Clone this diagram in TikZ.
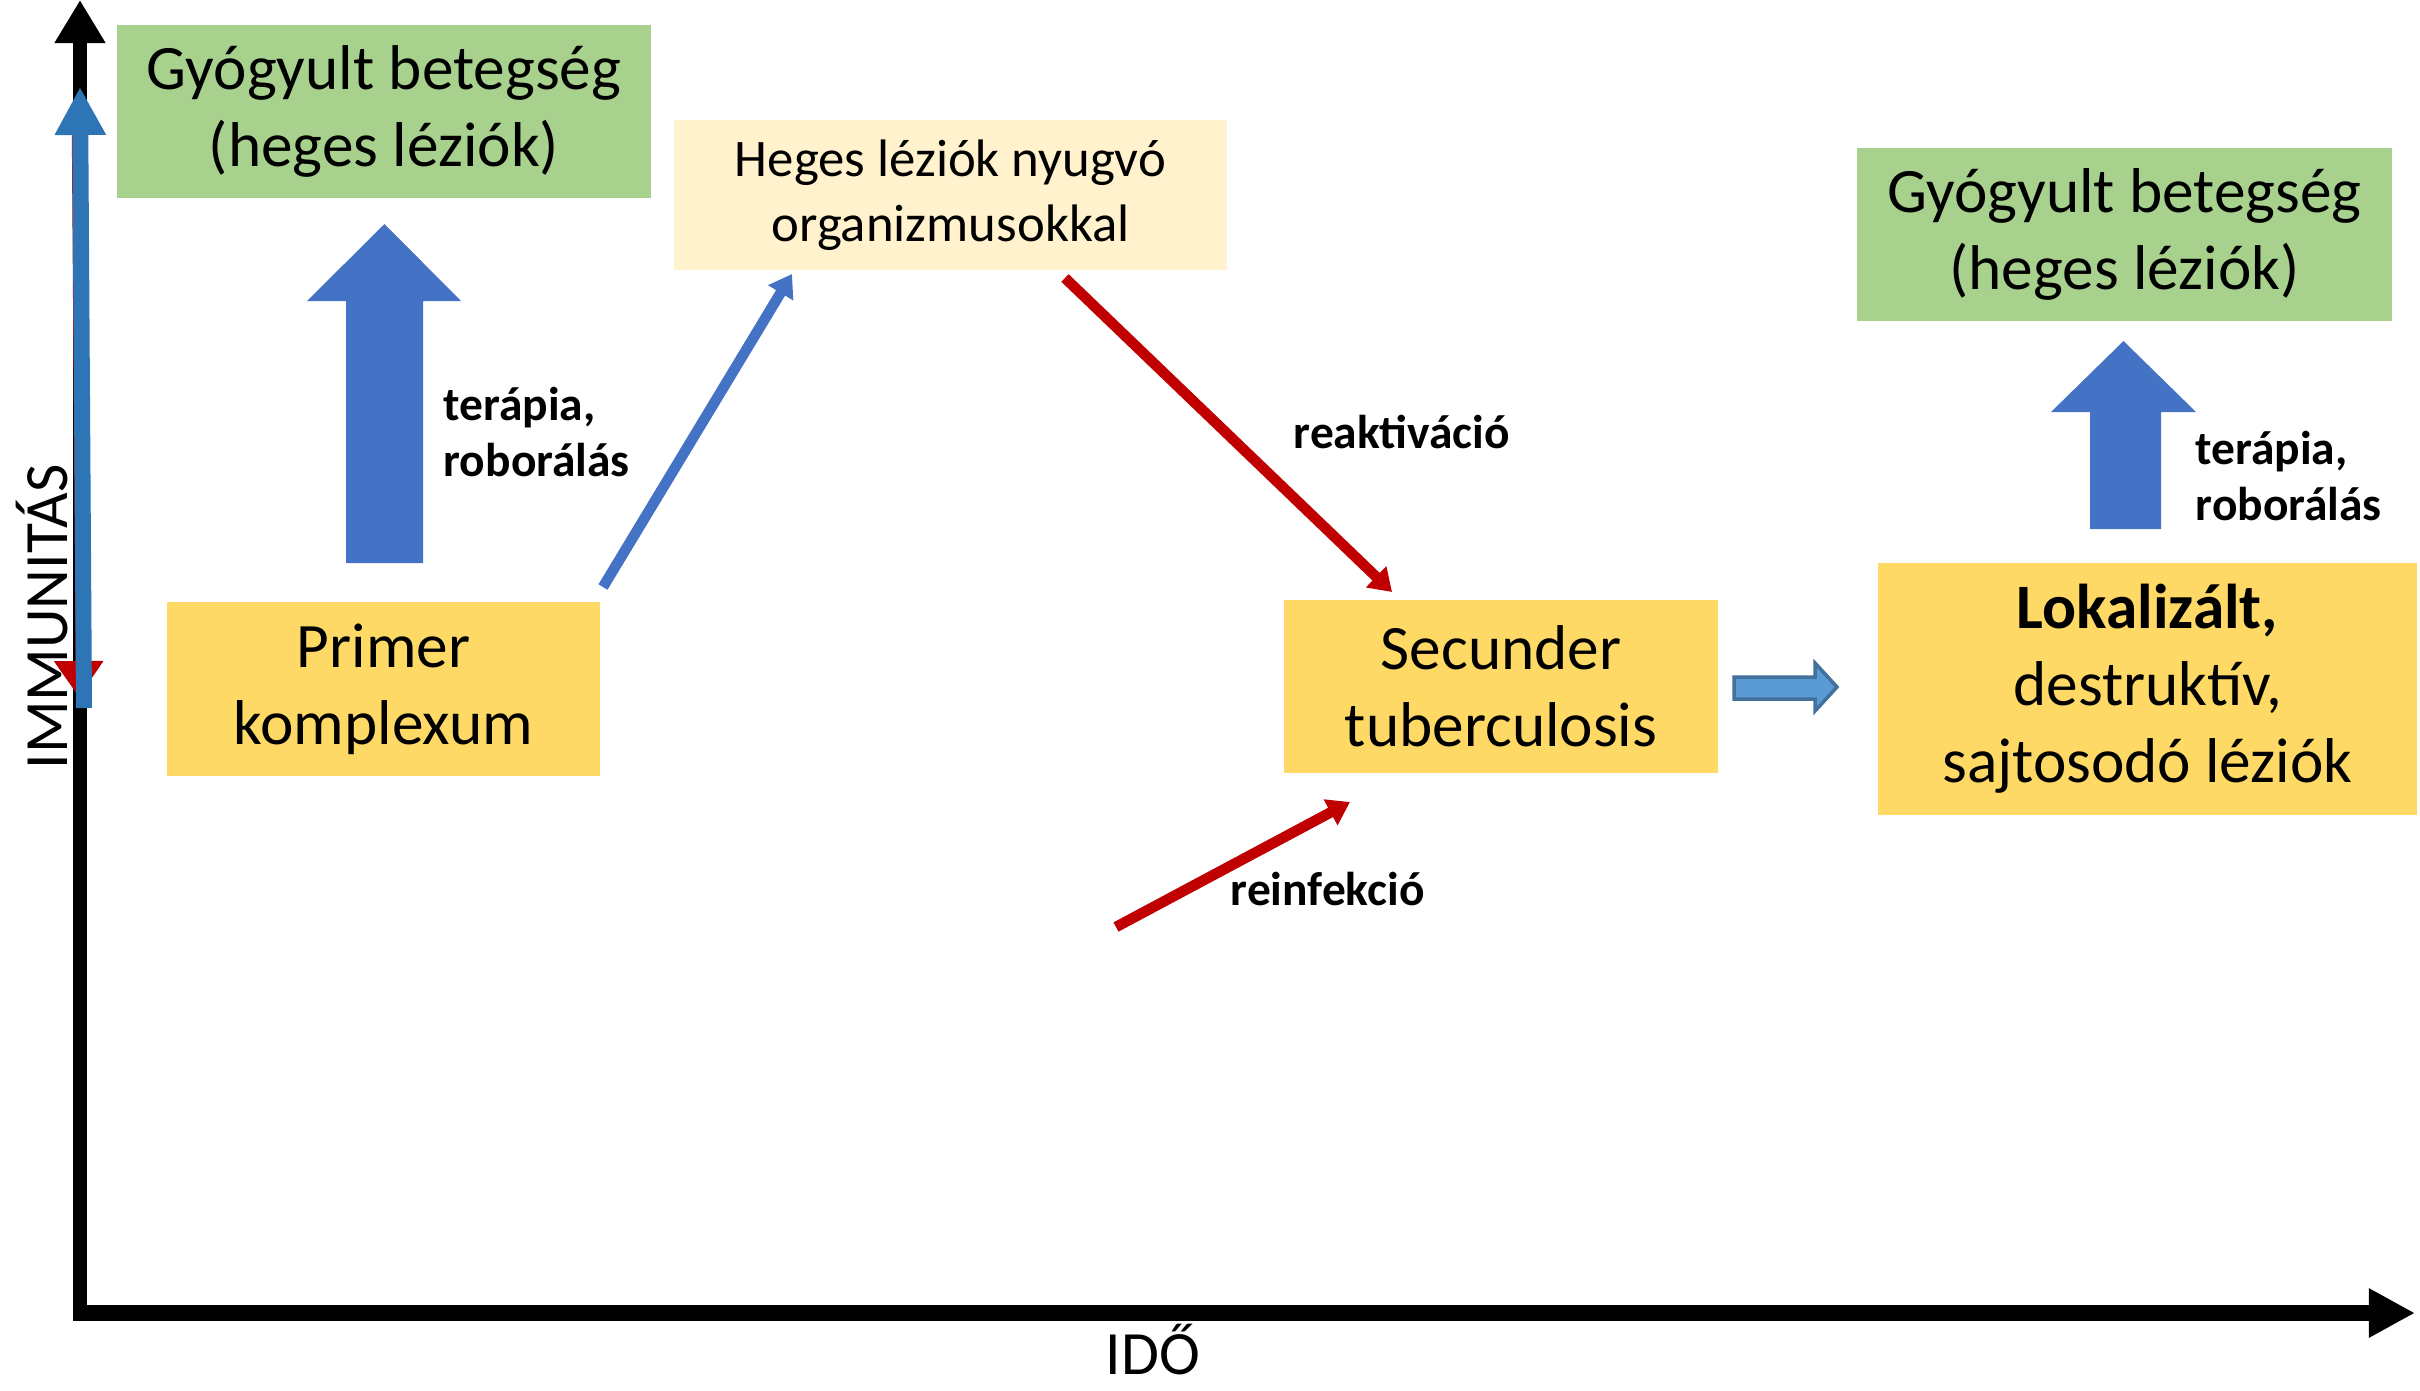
\documentclass[tikz,border=0pt]{standalone}
\usepackage{fontspec}
\setmainfont{Carlito}
\usetikzlibrary{arrows.meta}

\definecolor{zold}{HTML}{A9D18E}
\definecolor{halvany}{HTML}{FFF2CC}
\definecolor{sarga}{HTML}{FFD966}
\definecolor{kek}{HTML}{4472C4}
\definecolor{tengerkek}{HTML}{2E75B6}
\definecolor{vilagoskek}{HTML}{5B9BD5}
\definecolor{keret}{HTML}{41719C}
\definecolor{piros}{HTML}{C00000}

\tikzset{
  box/.style={inner sep=0pt, align=center, font=\fontsize{18}{21.9}\selectfont},
  label/.style={inner sep=0pt, align=left, font=\fontsize{13.5}{16}\selectfont\bfseries},
  axis/.style={line width=4pt},
  thin arrow/.style={line width=3pt, -{Triangle[length=0.22cm,width=0.28cm]}},
  blockarrow/.style={fill=kek, draw=none}
}

\begin{document}
\begin{tikzpicture}[x=0.01cm, y=-0.01cm]

    \useasboundingbox (0,0) rectangle (2420,1390);

    % draw axes
    \draw[axis,-{Triangle[length=0.43cm,width=0.48cm]}] (80,1320) -- (80,0);
    \draw[axis,line width=4.5pt,-{Triangle[length=0.46cm,width=0.46cm]}] (73,1313) -- (2415,1313);
    \node[rotate=90, font=\fontsize{17.5}{20}\selectfont] (immun) at (42,617) {IMMUNITÁS};
    \node[font=\fontsize{17.5}{20}\selectfont] (ido) at (1153,1350) {IDŐ};

    % arrows on the y axis
    \draw[piros, line width=1.8pt, -{Triangle[length=0.36cm,width=0.48cm]}] (75,135) -- (79,697);
    \draw[tengerkek, line width=0.16cm, -{Triangle[length=0.48cm,width=0.48cm]}] (84,708) -- (80,87);

    % boxes
    \node[box, fill=zold, minimum width=5.34cm, minimum height=1.73cm] (gyogy1) at (384,111.5) {Gyógyult betegség\\(heges léziók)};
    \node[box, fill=halvany, minimum width=5.53cm, minimum height=1.5cm, font=\fontsize{15}{18.5}\selectfont] (heges) at (950.5,195) {Heges léziók nyugvó\\organizmusokkal};
    \node[box, fill=sarga, minimum width=4.33cm, minimum height=1.74cm] (primer) at (383.5,689) {Primer\\komplexum};
    \node[box, fill=sarga, minimum width=4.34cm, minimum height=1.73cm] (secunder) at (1501,686.5) {Secunder\\tuberculosis};
    \node[box, fill=sarga, minimum width=5.39cm, minimum height=2.52cm] (lokal) at (2147.5,689) {\textbf{Lokalizált,}\\destruktív,\\sajtosodó léziók};
    \node[box, fill=zold, minimum width=5.35cm, minimum height=1.73cm] (gyogy2) at (2124.5,234.5) {Gyógyult betegség\\(heges léziók)};

    % block arrows
    \draw[blockarrow] (346,563) -- (346,301) -- (307,301) -- (384.5,224) -- (461,301) -- (423,301) -- (423,563) -- cycle;
    \draw[blockarrow] (2090,529) -- (2090,412) -- (2051,412) -- (2123.5,341) -- (2196,412) -- (2161,412) -- (2161,529) -- cycle;
    \draw[fill=vilagoskek, draw=keret, line width=1pt] (1734,677) -- (1815,677) -- (1815,663) -- (1837,687) -- (1815,711) -- (1815,699) -- (1734,699) -- cycle;

    \node[label, anchor=west] (terapia1) at (443,432) {terápia,\\roborálás};
    \node[label, anchor=west] (terapia2) at (2195,476) {terápia,\\roborálás};

    % thin arrows
    \coordinate (kekstart) at (603,587);
    \coordinate (kekveg) at (792,274);
    \coordinate (reakstart) at (1065,278);
    \coordinate (reakveg) at (1392,592);
    \coordinate (reinfstart) at (1116,927);
    \coordinate (reinfveg) at (1350,802);

    \draw[thin arrow, kek] (kekstart) -- (kekveg);
    \draw[thin arrow, piros] (reakstart) -- (reakveg);
    \draw[thin arrow, piros] (reinfstart) -- (reinfveg);

    \node[label, anchor=west] (reakt) at (1293,432) {reaktiváció};
    \node[label, anchor=west] (reinf) at (1230,889) {reinfekció};

\end{tikzpicture}
\end{document}
